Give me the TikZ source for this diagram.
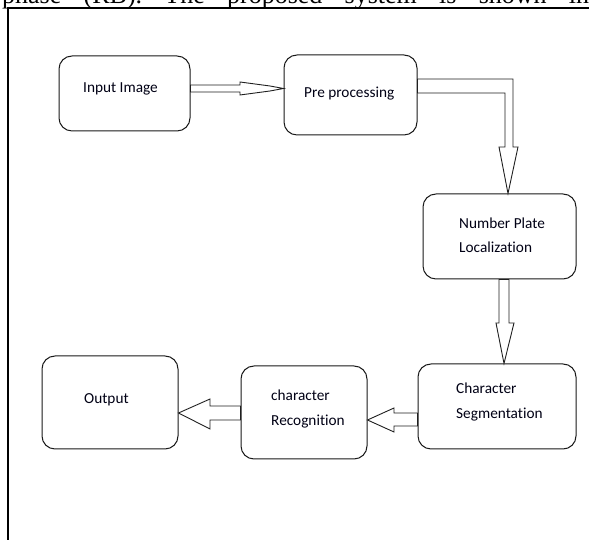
\documentclass[tikz,border=0pt]{standalone}
\usepackage{fontspec}
\setmainfont{Carlito}[Ligatures=NoCommon]
\newfontfamily\paperfont{Liberation Serif}
\begin{document}
\begin{tikzpicture}[x=1pt,y=1pt,
  boxnode/.style={draw=black!90, line width=1pt, rounded corners=13pt, inner sep=0pt},
  lbl/.style={anchor=west, inner sep=0pt, align=left, font=\fontsize{15.3}{24.5}\selectfont, text=black!92!blue},
  blockarrow/.style={draw=black!88, line width=0.9pt, fill=white, line join=miter}]
\useasboundingbox (0,0) rectangle (589,540);
\clip (0,0) rectangle (589,540);
% cut-off text line of the page above the figure
\node[anchor=base west, inner sep=0pt, font=\paperfont\fontsize{26}{30}\selectfont] (para) at (2,536.5)
  {\makebox[587pt][s]{phase (RB). The proposed system is shown in}};
% figure frame
\coordinate (fa) at (8,0);
\coordinate (fb) at (8,532);
\coordinate (fc) at (590,532);
\draw[line width=2pt, black] (fa) -- (fb) -- (fc);
% boxes
\node[boxnode, minimum width=131pt, minimum height=75pt] (in) at (124.5,446.5) {};
\node[boxnode, minimum width=133pt, minimum height=80pt] (pre) at (350.5,445) {};
\node[boxnode, minimum width=153pt, minimum height=85pt] (npl) at (499.5,303.5) {};
\node[boxnode, minimum width=158pt, minimum height=85pt] (cs) at (497,133.5) {};
\node[boxnode, minimum width=126pt, minimum height=93pt] (cr) at (304,127.5) {};
\node[boxnode, minimum width=136pt, minimum height=93pt] (out) at (110,137.5) {};
% labels
\node[lbl] (tin) at (83,451) {Input Image};
\node[lbl] (tpre) at (304,446) {Pre processing};
\node[lbl] (tnpl) at (459,304.5) {Number Plate\\Localization};
\node[lbl] (tcs) at (456,138) {Character\\Segmentation};
\node[lbl] (tcr) at (271,131) {character\\Recognition};
\node[lbl] (tout) at (84,140) {Output};
% block arrows
\draw[blockarrow] (in.east |- 0,455) -- (240,455) -- (240,458) -- (270,454) -- (pre.west |- 0,451.5)
  -- (270,449) -- (240,445) -- (240,448) -- (in.east |- 0,448) -- cycle;
\draw[blockarrow] (pre.east |- 0,461) -- (513,461) -- (513,393) -- (518,393) -- (npl.north -| 508,0)
  -- (499,393) -- (505,393) -- (505,447) -- (pre.east |- 0,447) -- cycle;
\draw[blockarrow] (npl.south -| 499,0) -- (499,217) -- (496,217) -- (cs.north -| 504,0)
  -- (514,217) -- (509,217) -- (npl.south -| 509,0) -- cycle;
\draw[blockarrow] (cs.west |- 0,127) -- (394,127) -- (394,132) -- (cr.east |- 0,120)
  -- (394,108) -- (394,114) -- (cs.west |- 0,114) -- cycle;
\draw[blockarrow] (cr.west |- 0,134) -- (210,134) -- (210,141) -- (out.east |- 0,127)
  -- (210,111) -- (210,120) -- (cr.west |- 0,120) -- cycle;
\end{tikzpicture}
\end{document}
